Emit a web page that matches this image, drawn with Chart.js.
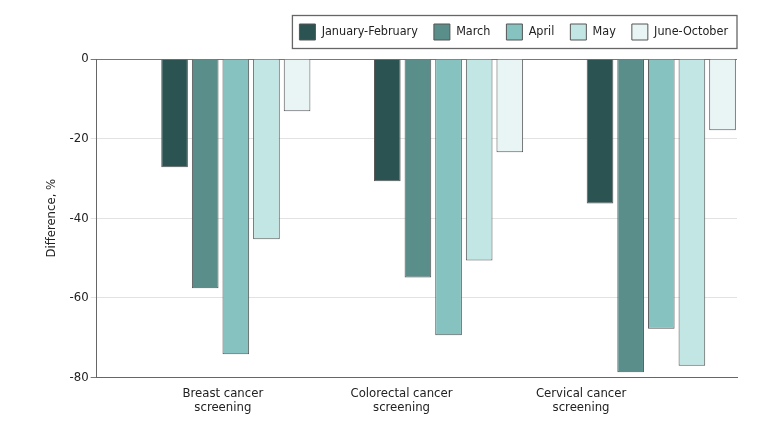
<!DOCTYPE html>
<html><head><meta charset="utf-8">
<script src="https://cdn.jsdelivr.net/npm/chart.js@4.4.0/dist/chart.umd.min.js"></script>
<style>html,body{margin:0;padding:0;background:#fff}</style>
</head><body>
<canvas id="c" width="780" height="425"></canvas>
<script>
// ---- data ----
const categories = [['Breast cancer', 'screening'], ['Colorectal cancer', 'screening'], ['Cervical cancer', 'screening']];
const seriesNames = ['January-February', 'March', 'April', 'May', 'June-October'];
const janFeb  = [-27.2, -30.7, -36.3];
const march   = [-57.6, -54.9, -78.7];
const april   = [-74.2, -69.4, -67.8];
const may     = [-45.3, -50.6, -77.1];
const juneOct = [-13.1, -23.4, -17.9];
const yTickValues = [0, -20, -40, -60, -80];

// ---- styling / layout ----
const seriesColors = ['#2b5351', '#5a8e8b', '#86c2c0', '#c2e6e4', '#e9f4f5'];
const FONT = "'Liberation Sans Narrow', 'DejaVu Sans Condensed', Roboto, sans-serif";
const xRange = { min: -0.654, max: 2.356 };         // group placement on the index axis
const labelAt = [-0.061, 0.779, 1.623];             // where category captions sit
const LEGEND_SHIFT = 7;

const seriesValues = [janFeb, march, april, may, juneOct];
const datasets = seriesNames.map((name, s) => ({
  label: name,
  data: categories.map((c, i) => ({ x: i, y: seriesValues[s][i] })),
  backgroundColor: seriesColors[s],
  borderColor: '#555',
  borderWidth: 1,
  categoryPercentage: 0.857,
  barPercentage: 0.87
}));

const legendTweak = {
  id: 'legendTweak',
  beforeLayout(chart) {
    const lg = chart.legend;
    if (lg && !lg._patched) {
      const origFit = lg.fit;
      lg.fit = function () { origFit.call(this); this.height += 9; };
      lg._patched = true;
    }
  },
  afterUpdate(chart) {
    const lg = chart.legend;
    if (!lg) return;
    lg.left += LEGEND_SHIFT; lg.right += LEGEND_SHIFT;
  },
  afterDraw(chart) {
    const lg = chart.legend;
    if (!lg || !lg.lineWidths) return;
    const pad = lg.options.labels.padding;
    const boxH = lg.options.labels.boxHeight;
    const l = lg.right - lg.lineWidths[0] - 7;
    const r = lg.right - pad + 9;
    const t = lg.top + pad - 8.5;
    const b = lg.top + pad + boxH + 8.5;
    const ctx = chart.ctx;
    ctx.save();
    ctx.strokeStyle = '#666';
    ctx.lineWidth = 1.3;
    ctx.strokeRect(l, t, r - l, b - t);
    ctx.restore();
  }
};

new Chart(document.getElementById('c'), {
  type: 'bar',
  data: { datasets },
  plugins: [legendTweak],
  options: {
    responsive: false,
    animation: false,
    layout: { padding: { left: 36, right: 43, top: 8, bottom: 9 } },
    plugins: {
      tooltip: { enabled: false },
      legend: {
        position: 'top',
        align: 'end',
        labels: {
          boxWidth: 16, boxHeight: 16, padding: 16,
          color: '#222',
          font: { family: FONT, size: 12.5 }
        }
      }
    },
    scales: {
      x: {
        type: 'linear',
        offset: false,
        bounds: 'data',
        min: xRange.min, max: xRange.max,
        grid: { display: false },
        border: { display: true, color: '#666', width: 1 },
        afterBuildTicks(scale) { scale.ticks = labelAt.map(v => ({ value: v })); },
        ticks: {
          autoSkip: false, maxRotation: 0, padding: 1,
          color: '#222',
          font: { family: FONT, size: 13, lineHeight: 1.1 },
          callback: (v, i) => categories[i]
        }
      },
      y: {
        min: -80, max: 0,
        afterBuildTicks(scale) { scale.ticks = yTickValues.map(v => ({ value: v })); },
        grid: {
          color: c => (c.tick && (c.tick.value === 0 || c.tick.value === -80)) ? '#777' : '#e2e2e2',
          tickLength: 6,
          lineWidth: 1
        },
        border: { display: true, color: '#666', width: 1 },
        ticks: { color: '#222', padding: 2, font: { family: FONT, size: 13 } },
        title: { display: true, text: 'Difference, %', color: '#222', font: { family: FONT, size: 13 }, padding: 8 }
      }
    }
  }
});
</script>
</body></html>
